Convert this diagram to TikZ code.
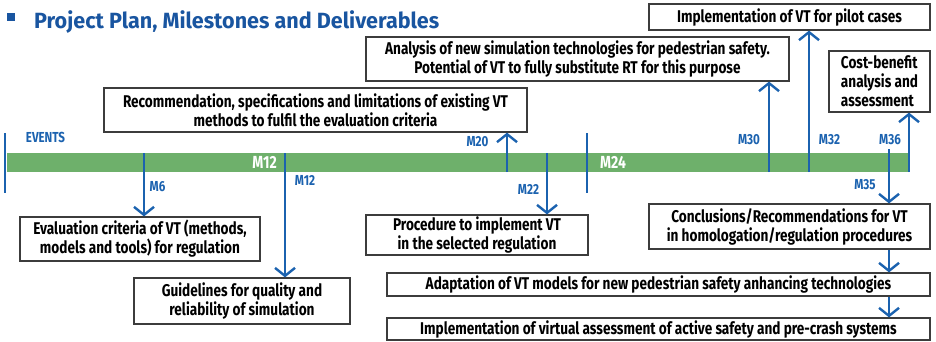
\documentclass[tikz,border=0pt]{standalone}
\usepackage{fontspec}
\setmainfont{Fira Sans}[FakeStretch=0.8]
\newfontfamily\titlefont{Fira Sans}[FakeStretch=0.98]
\usetikzlibrary{arrows.meta,positioning}
\definecolor{evblue}{RGB}{27,98,175}
\definecolor{titleblue}{RGB}{25,85,160}
\definecolor{bargreen}{RGB}{110,176,107}
\definecolor{boxgray}{RGB}{60,60,60}

\begin{document}
\begin{tikzpicture}[x=1pt,y=-1pt,
  deliv/.style={draw=boxgray, line width=1.2pt, align=center, inner sep=0pt,
    font=\bfseries\fontsize{17}{19}\selectfont},
  mile/.style={text=evblue, inner sep=0pt, font=\bfseries\fontsize{14.5}{16}\selectfont},
  barlabel/.style={text=white, inner sep=0pt, font=\bfseries\fontsize{17.5}{19}\selectfont},
  milearrow/.style={evblue, line width=2.4pt, -{Straight Barb[length=8pt,width=20pt]}},
  event/.style={evblue, line width=2.4pt}]
\useasboundingbox (0,0) rectangle (936,341);

\node[fill=titleblue, minimum size=8pt, inner sep=0pt] (bullet) at (11,17) {};
\node[anchor=base west, text=titleblue, inner sep=0pt,
  font=\titlefont\bfseries\fontsize{22}{24}\selectfont] (title) at (34,28) {Project Plan, Milestones and Deliverables};

\node[fill=bargreen, minimum width=902pt, minimum height=19pt, inner sep=0pt, anchor=north west] (bar) at (7,153) {};
\node[barlabel, anchor=east] (barM12) at (277,162) {M12};
\node[barlabel, anchor=west] (barM24) at (600,162) {M24};

\node[deliv, minimum width=423pt, minimum height=44pt] (recomm) at (315.5,110) {Recommendation, specifications and limitations of existing VT\\methods to fulfil the evaluation criteria};
\node[deliv, minimum width=423pt, minimum height=44pt] (analysis) at (577.5,59) {Analysis of new simulation technologies for pedestrian safety.\\Potential of VT to fully substitute RT for this purpose};
\node[deliv, minimum width=281pt, minimum height=26pt] (pilot) at (789.5,17) {Implementation of VT for pilot cases};
\node[deliv, minimum width=101pt, minimum height=61pt, align=left] (costben) at (879.5,81.5) {Cost-benefit\\analysis and\\assessment};
\node[deliv, minimum width=240pt, minimum height=44pt] (evalcrit) at (140,239) {Evaluation criteria of VT (methods,\\models and tools) for regulation};
\node[deliv, minimum width=216pt, minimum height=46pt] (guide) at (242,301) {Guidelines for quality and\\reliability of simulation};
\node[deliv, minimum width=222pt, minimum height=40pt] (proced) at (477,235) {Procedure to implement VT\\in the selected regulation};
\node[deliv, minimum width=281pt, minimum height=45pt] (concl) at (789.5,226.5) {Conclusions/Recommendations for VT\\in homologation/regulation procedures};
\node[deliv, minimum width=543pt, minimum height=23pt] (adapt) at (658.5,284.5) {Adaptation of VT models for new pedestrian safety anhancing technologies};
\node[deliv, minimum width=543pt, minimum height=22pt] (virtual) at (658.5,329) {Implementation of virtual assessment of active safety and pre-crash systems};

\node[mile] (events) at (45.5,137) {EVENTS};
\node[mile] (lblM6) at (157.5,187) {M6};
\node[mile] (lblM12) at (305,180) {M12};
\node[mile] (lblM20) at (477.5,142) {M20};
\node[mile] (lblM22) at (528.5,189) {M22};
\node[mile] (lblM30) at (749,140) {M30};
\node[mile] (lblM32) at (829.5,140) {M32};
\node[mile] (lblM36) at (890,140) {M36};
\node[mile] (lblM35) at (865,185) {M35};

\coordinate (m6) at (144,153);
\coordinate (m12) at (285,153);
\coordinate (m20) at (507,172);
\coordinate (m22) at (547,153);
\coordinate (m30) at (769,172);
\coordinate (m32) at (809,172);
\coordinate (m36) at (909,172);
\coordinate (m35) at (889,149);

\draw[event] (5,133) -- (5,193);
\draw[event] (587,133) -- (587,193);

\draw[milearrow] (m6) -- (m6 |- evalcrit.north);
\draw[milearrow] (m12) -- (m12 |- guide.north);
\draw[milearrow] (m20) -- (m20 |- recomm.south);
\draw[milearrow] (m22) -- (m22 |- proced.north);
\draw[milearrow] (m30) -- (m30 |- analysis.south);
\draw[milearrow] (m32) -- (m32 |- pilot.south);
\draw[milearrow] (m36) -- (m36 |- costben.south);
\draw[milearrow] (m35) -- (m35 |- concl.north);
\draw[milearrow] (m35 |- concl.south) -- (m35 |- adapt.north);
\draw[milearrow] (m35 |- adapt.south) -- (m35 |- virtual.north);
\end{tikzpicture}
\end{document}
